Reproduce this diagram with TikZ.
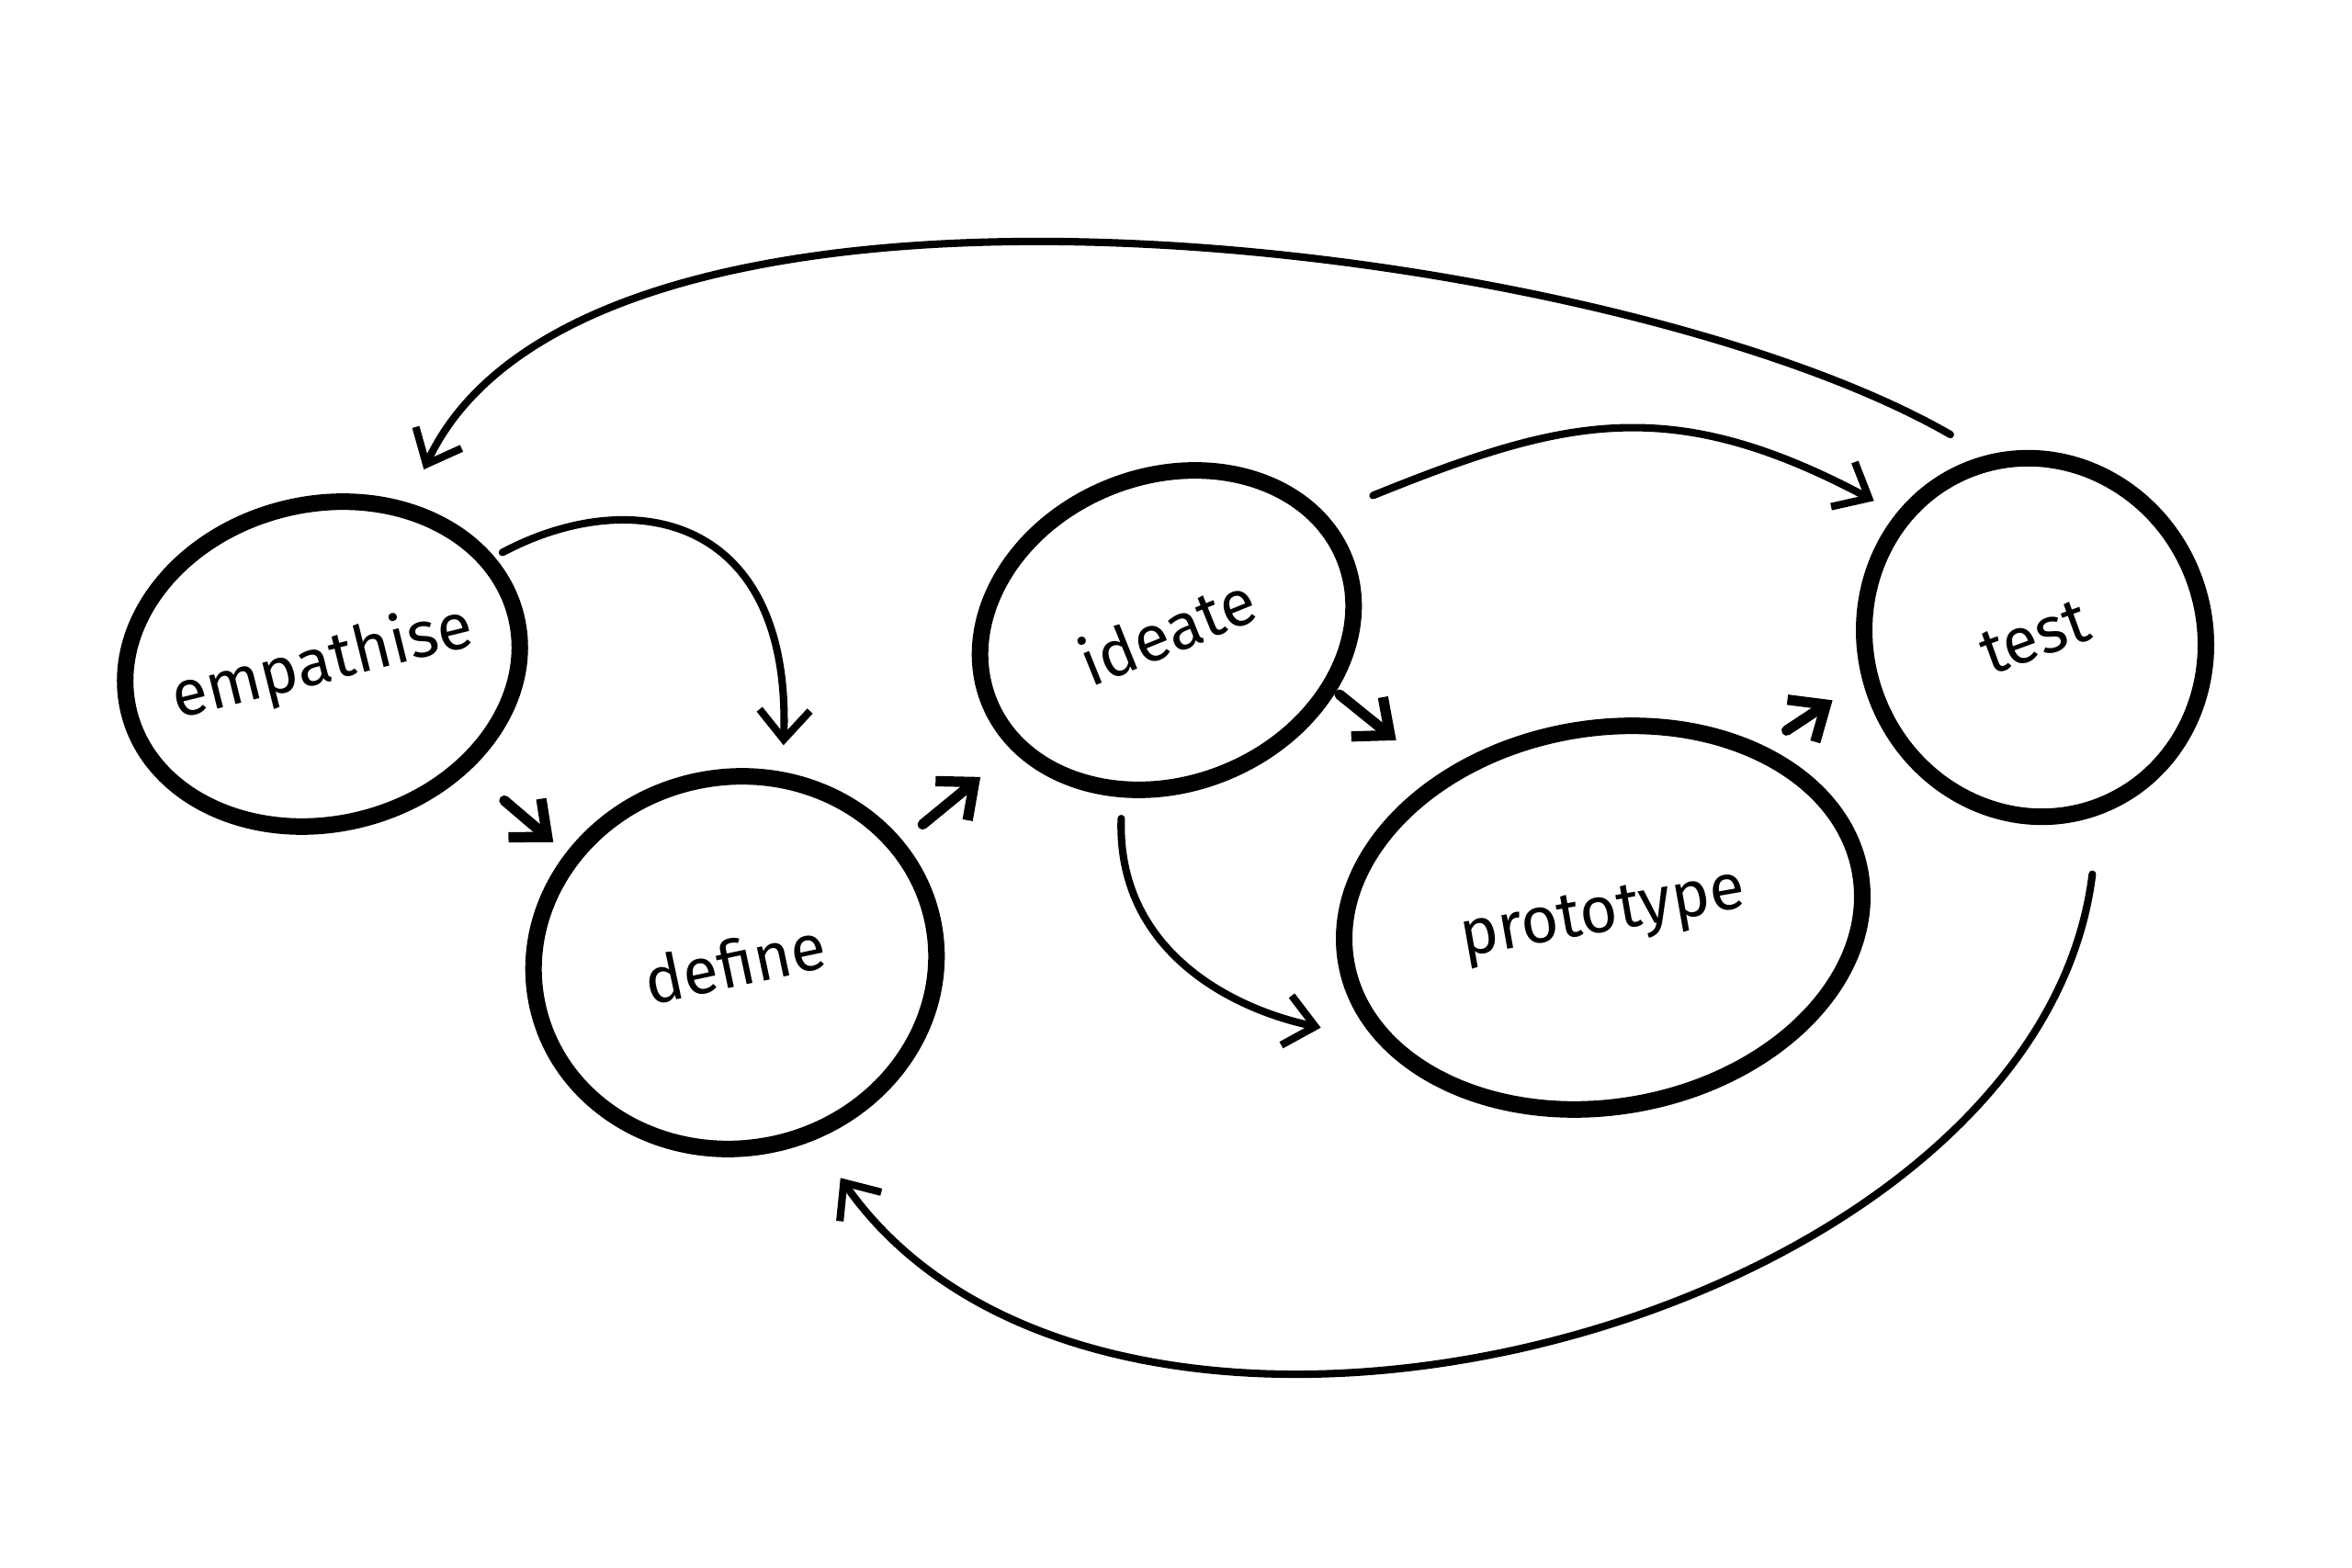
\documentclass[tikz,border=0pt]{standalone}
\usepackage{fontspec}
\setmainfont{Fira Sans}
\usetikzlibrary{shapes.geometric,arrows.meta}
\newcommand{\stagename}[1]{\makebox[0pt]{#1}}

\begin{document}
\begin{tikzpicture}[>={Straight Barb[length=3.2mm,width=5.5mm]},
    stage/.style={draw, ellipse, line width=0.18cm, inner sep=0pt,
        font=\fontsize{20}{24}\selectfont},
    flow/.style={->, line width=2.3pt, line cap=round},
    hop/.style={->, line width=3.2pt, line cap=round}]

    \useasboundingbox (0,0) rectangle (25.6,-17.07);

    % The five stages
    \node[stage, minimum width=4.34cm, minimum height=3.48cm, rotate=14]
        (emp) at (3.51,-7.23) {\stagename{empathise}};
    \node[stage, minimum width=4.40cm, minimum height=4.04cm, rotate=12]
        (def) at (8.00,-10.48) {\stagename{define}};
    \node[stage, minimum width=4.17cm, minimum height=3.35cm, rotate=22]
        (ide) at (12.70,-6.86) {\stagename{ideate}};
    \node[stage, minimum width=5.68cm, minimum height=4.12cm, rotate=10]
        (pro) at (17.45,-9.99) {\stagename{prototype}};
    \node[stage, minimum width=3.69cm, minimum height=3.93cm, rotate=20]
        (tst) at (22.15,-6.94) {\stagename{test}};

    % Short hops between neighbours
    \draw[hop, shorten <=0.5cm, shorten >=0.18cm] (emp.-50) -- (def.135);
    \draw[hop, shorten <=0.28cm, shorten >=0.45cm] (def.24) -- (ide.196);
    \draw[hop, shorten <=0.05cm, shorten >=0.59cm] (ide.-42) -- (pro.129);
    \draw[hop, shorten <=0.30cm, shorten >=0.39cm] (pro.37) -- (tst.174);

    % Curved jumps
    \draw[flow, shorten <=0.1cm, shorten >=0.29cm] (emp.18)
        to[out=28, in=88, out distance=1.7cm, in distance=2.8cm] (def.64);
    \draw[flow, shorten <=0.23cm, shorten >=0.6cm] (ide.-127)
        to[out=-92, in=168, looseness=1.1] (pro.198);
    \draw[flow, shorten <=0.55cm, shorten >=0.28cm] (ide.14)
        to[out=22, in=152, looseness=1.15] (tst.118);

    % Going back
    \draw[flow, shorten <=0.45cm, shorten >=0.40cm] (tst.85)
        to[out=150, in=65, looseness=0.7] (emp.48);
    \draw[flow, shorten <=0.65cm, shorten >=0.50cm] (tst.-90)
        to[out=-97, in=-55] (def.-78);

\end{tikzpicture}
\end{document}
